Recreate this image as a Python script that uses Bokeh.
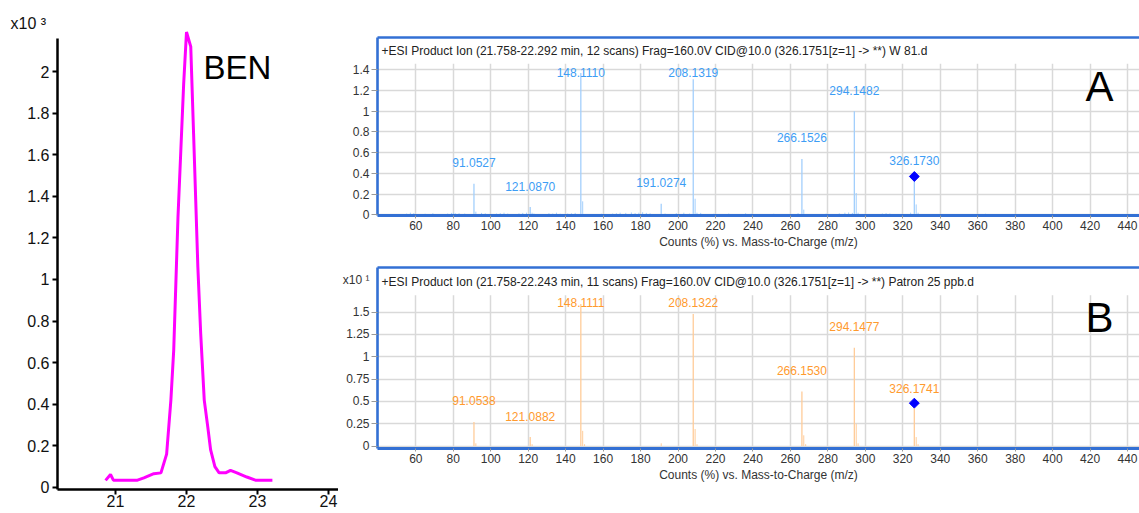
import numpy as np
from bokeh.plotting import figure
from bokeh.models import (LinearAxis, FixedTicker, CustomJSTickFormatter, Label, Range1d)
from bokeh.layouts import row, column
from bokeh.core.properties import value
from bokeh.embed import file_html
from bokeh.resources import INLINE

FONT = "Liberation Sans"

# ---------------- data ----------------
# Extracted ion chromatogram, BEN (counts x10^3)
ben_time = [20.86, 20.93, 20.97, 21.10, 21.20, 21.31, 21.40, 21.54, 21.64, 21.72,
            21.78, 21.82, 21.85, 21.88, 21.92, 21.96, 22.00, 22.06, 22.10, 22.13,
            22.16, 22.20, 22.25, 22.30, 22.34, 22.40, 22.46, 22.55, 22.62, 22.71,
            22.85, 22.97, 23.21]
ben_counts = [0.034, 0.062, 0.035, 0.035, 0.035, 0.035, 0.046, 0.066, 0.07, 0.16,
              0.42, 0.66, 0.98, 1.30, 1.62, 1.94, 2.19, 2.12, 1.70, 1.38,
              1.06, 0.74, 0.42, 0.29, 0.18, 0.10, 0.07, 0.07, 0.082, 0.07,
              0.05, 0.035, 0.035]
ben_xticks = [21, 22, 23, 24]
ben_yticks = [0, 0.2, 0.4, 0.6, 0.8, 1.0, 1.2, 1.4, 1.6, 1.8, 2.0]

# Spectrum A (W 81.d), counts x10^0
a_mz = [91.0527, 121.0870, 148.1110, 191.0274, 208.1319, 266.1526, 294.1482]
a_int = [0.30, 0.074, 1.37, 0.106, 1.31, 0.54, 1.00]
a_labels = ["91.0527", "121.0870", "148.1110", "191.0274", "208.1319", "266.1526", "294.1482"]
a_prec_mz = [326.1730]
a_prec_int = [0.37]
a_prec_label = ["326.1730"]
a_minor_mz = [92.06, 122.09, 149.11, 209.13, 210.13, 267.15, 295.15, 296.15, 327.17, 328.18]
a_minor_int = [0.03, 0.02, 0.13, 0.155, 0.02, 0.05, 0.21, 0.02, 0.10, 0.02]
a_noise_mz = [55.1, 57.1, 58.9, 65.0, 69.1, 77.0, 79.1, 80.1, 81.1, 83.1,
              86.1, 95.1, 97.1, 103.1, 105.1, 107.1, 109.1, 115.1, 117.1, 119.1,
              123.1, 131.1, 133.1, 135.1, 137.1, 141.1, 143.1, 145.1, 159.1, 165.1,
              167.1, 169.1, 172.1, 175.1, 177.1, 179.1, 181.1, 183.1, 185.1, 193.1,
              199.1, 203.1, 206.1, 212.1, 219.1, 227.1, 236.1, 239.1, 251.1, 264.1,
              279.1, 286.1, 289.1, 291.1, 293.1, 309.1, 311.1, 313.1, 324.2, 364.2]
a_noise_int = [0.012, 0.020, 0.015, 0.010, 0.015, 0.012, 0.018, 0.020, 0.014, 0.016,
               0.012, 0.018, 0.014, 0.012, 0.016, 0.020, 0.012, 0.014, 0.018, 0.020,
               0.012, 0.016, 0.012, 0.020, 0.010, 0.012, 0.014, 0.018, 0.010, 0.012,
               0.015, 0.020, 0.018, 0.022, 0.016, 0.020, 0.024, 0.018, 0.014, 0.012,
               0.016, 0.020, 0.012, 0.018, 0.010, 0.012, 0.015, 0.010, 0.010, 0.016,
               0.012, 0.014, 0.020, 0.022, 0.018, 0.012, 0.016, 0.012, 0.020, 0.010]
a_yticks = [0, 0.2, 0.4, 0.6, 0.8, 1.0, 1.2, 1.4]

# Spectrum B (Patron 25 ppb.d), counts x10^1
b_mz = [91.0538, 121.0882, 148.1111, 208.1322, 266.1530, 294.1477]
b_int = [0.27, 0.10, 1.59, 1.48, 0.61, 1.10]
b_labels = ["91.0538", "121.0882", "148.1111", "208.1322", "266.1530", "294.1477"]
b_prec_mz = [326.1741]
b_prec_int = [0.48]
b_prec_label = ["326.1741"]
b_minor_mz = [92.06, 122.09, 149.11, 150.12, 191.03, 209.13, 210.14, 267.15, 268.16, 295.15, 296.15, 327.17, 328.18]
b_minor_int = [0.03, 0.02, 0.17, 0.02, 0.03, 0.19, 0.02, 0.12, 0.02, 0.25, 0.03, 0.10, 0.02]
b_yticks = [0, 0.25, 0.5, 0.75, 1.0, 1.25, 1.5]

mz_ticks = list(range(60, 441, 20))

header_a = "+ESI Product Ion (21.758-22.292 min, 12 scans) Frag=160.0V CID@10.0 (326.1751[z=1] -> **) W 81.d"
header_b = "+ESI Product Ion (21.758-22.243 min, 11 scans) Frag=160.0V CID@10.0 (326.1751[z=1] -> **) Patron 25 ppb.d"

fmt_code = "return String(Math.round(tick*100)/100);"

# ---------------- left: chromatogram ----------------
p1 = figure(width=338, height=513, x_range=Range1d(20.183, 24.141), y_range=Range1d(-0.01, 2.207),
            output_backend="svg", toolbar_location=None,
            min_border_left=57, min_border_right=0, min_border_top=28, min_border_bottom=24)
p1.line(ben_time, ben_counts, line_color="#ff00ff", line_width=3)
p1.grid.visible = False
p1.outline_line_color = None
p1.background_fill_color = "white"
p1.border_fill_color = "white"
for ax in (p1.xaxis[0], p1.yaxis[0]):
    ax.axis_line_color = "black"
    ax.axis_line_width = 2.5
    ax.major_tick_line_color = "black"
    ax.major_tick_line_width = 2
    ax.major_tick_in = 0
    ax.major_tick_out = 5
    ax.minor_tick_line_color = None
    ax.major_label_text_font = FONT
    ax.major_label_text_font_size = "16px"
    ax.major_label_text_color = "#111111"
    ax.formatter = CustomJSTickFormatter(code=fmt_code)
p1.xaxis.ticker = FixedTicker(ticks=ben_xticks)
p1.yaxis.ticker = FixedTicker(ticks=ben_yticks)
p1.xaxis.major_label_standoff = 0
p1.yaxis.major_label_standoff = 3
p1.yaxis.bounds = (-0.01, 2.16)

p1.title.text = "x10 \u00b3"
p1.title.align = "left"
p1.title.offset = -47
p1.title.standoff = -6
p1.title.text_font = FONT
p1.title.text_font_size = "16px"
p1.title.text_font_style = "normal"
p1.title.text_color = "#111111"

p1.add_layout(Label(x=22.24, y=2.02, text="BEN", text_font=FONT, text_font_size="33px",
                    text_color="black", text_baseline="middle"))


def spectrum(height, y_start, y_end, grid_top, yticks, extra_tick, min_top, min_bottom,
             line_color, label_color, mz, inten, labels, prec_mz, prec_int, prec_label,
             minor_mz, minor_int, noise_mz, noise_int, label_cap, prec_offset,
             header, header_y, letter, letter_y):
    x0, x1 = 39.55, 446.4
    p = figure(width=801, height=height, x_range=Range1d(x0, x1), y_range=Range1d(y_start, y_end),
               output_backend="svg", toolbar_location=None,
               min_border_left=39, min_border_right=0, min_border_top=min_top,
               min_border_bottom=min_bottom)
    p.outline_line_color = None
    p.xgrid.ticker = FixedTicker(ticks=mz_ticks)
    p.ygrid.ticker = FixedTicker(ticks=yticks)
    p.grid.grid_line_color = "#d9d9d9"
    p.grid.grid_line_width = 1.5
    # white band for the header area (hides grid above plot region)
    p.quad(left=[x0], right=[x1], bottom=[grid_top], top=[y_end], fill_color="white",
           line_color=None)
    if noise_mz:
        p.segment(x0=noise_mz, y0=0, x1=noise_mz, y1=noise_int, line_color=line_color, line_width=1)
    p.segment(x0=minor_mz, y0=0, x1=minor_mz, y1=minor_int, line_color=line_color, line_width=1)
    p.segment(x0=mz, y0=0, x1=mz, y1=inten, line_color=line_color, line_width=1.3)
    p.segment(x0=prec_mz, y0=0, x1=prec_mz, y1=prec_int, line_color=line_color, line_width=1.3)
    p.text(x=mz, y=list(np.minimum(inten, label_cap)), text=labels, text_align="center",
           text_baseline="middle", y_offset=-21, text_font=value(FONT), text_font_size="12px",
           text_color=label_color)
    p.text(x=prec_mz, y=prec_int, text=prec_label, text_align="center",
           text_baseline="middle", y_offset=prec_offset, text_font=value(FONT), text_font_size="12px",
           text_color=label_color)
    p.scatter(x=prec_mz, y=prec_int, marker="square", size=7, angle=np.pi / 4,
              fill_color="#0000ff", line_color="#0000ff")
    p.add_layout(Label(x=41.7, y=header_y, text=header, text_font=FONT, text_font_size="12px",
                       text_color="#222222", text_baseline="middle"))
    p.add_layout(Label(x=417.6, y=letter_y, text=letter, text_font=FONT, text_font_size="42px",
                       text_color="black", text_baseline="middle"))

    blue = "#3370d4"
    xa, ya = p.xaxis[0], p.yaxis[0]
    for ax in (xa, ya):
        ax.axis_line_color = blue
        ax.axis_line_width = 2.6
        ax.major_tick_in = 0
        ax.major_label_text_font = FONT
        ax.major_label_text_font_size = "12px"
        ax.major_label_text_color = "#333333"
    xa.axis_line_width = 3.2
    xa.ticker = FixedTicker(ticks=mz_ticks)
    xa.major_tick_line_color = "#9a9a9a"
    xa.major_tick_out = 3
    xa.minor_tick_line_color = None
    xa.major_label_standoff = 2
    xa.formatter = CustomJSTickFormatter(code=fmt_code)
    # y: tick marks drawn as "minor" ticks, labels (incl. exponent) from major ticks
    ya.ticker = FixedTicker(ticks=yticks + extra_tick, minor_ticks=yticks)
    ya.major_tick_line_color = None
    ya.major_tick_out = 0
    ya.minor_tick_line_color = "#9a9a9a"
    ya.minor_tick_in = 0
    ya.minor_tick_out = 6
    ya.major_label_standoff = 2
    ya.formatter = CustomJSTickFormatter(
        code="if (tick > 1.8) { return 'x10 \u00b9'; } " + fmt_code)
    xa.axis_label = "Counts (%) vs. Mass-to-Charge (m/z)"
    xa.axis_label_text_font = FONT
    xa.axis_label_text_font_size = "12px"
    xa.axis_label_text_font_style = "normal"
    xa.axis_label_text_color = "#333333"
    xa.axis_label_standoff = 2
    top = LinearAxis(ticker=FixedTicker(ticks=[]), axis_line_color=blue, axis_line_width=2.6,
                     major_tick_line_color=None, minor_tick_line_color=None)
    p.add_layout(top, "above")
    return p


pa = spectrum(258, -0.007, 1.713, 1.46, a_yticks, [], 37, 43, "#a3cffc", "#3d9df5",
              a_mz, a_int, a_labels, a_prec_mz, a_prec_int, a_prec_label,
              a_minor_mz, a_minor_int, a_noise_mz, a_noise_int, 1.175, -16,
              header_a, 1.587, "A", 1.24)

pb = spectrum(255, -0.028, 2.0, 1.69, b_yticks, [1.855], 9, 65, "#ffcc99", "#ff9a2e",
              b_mz, b_int, b_labels, b_prec_mz, b_prec_int, b_prec_label,
              b_minor_mz, b_minor_int, [], [], 1.37, -15,
              header_b, 1.84, "B", 1.435)

layout = row(p1, column(pa, pb))
open("out.html", "w").write(file_html(layout, INLINE))
